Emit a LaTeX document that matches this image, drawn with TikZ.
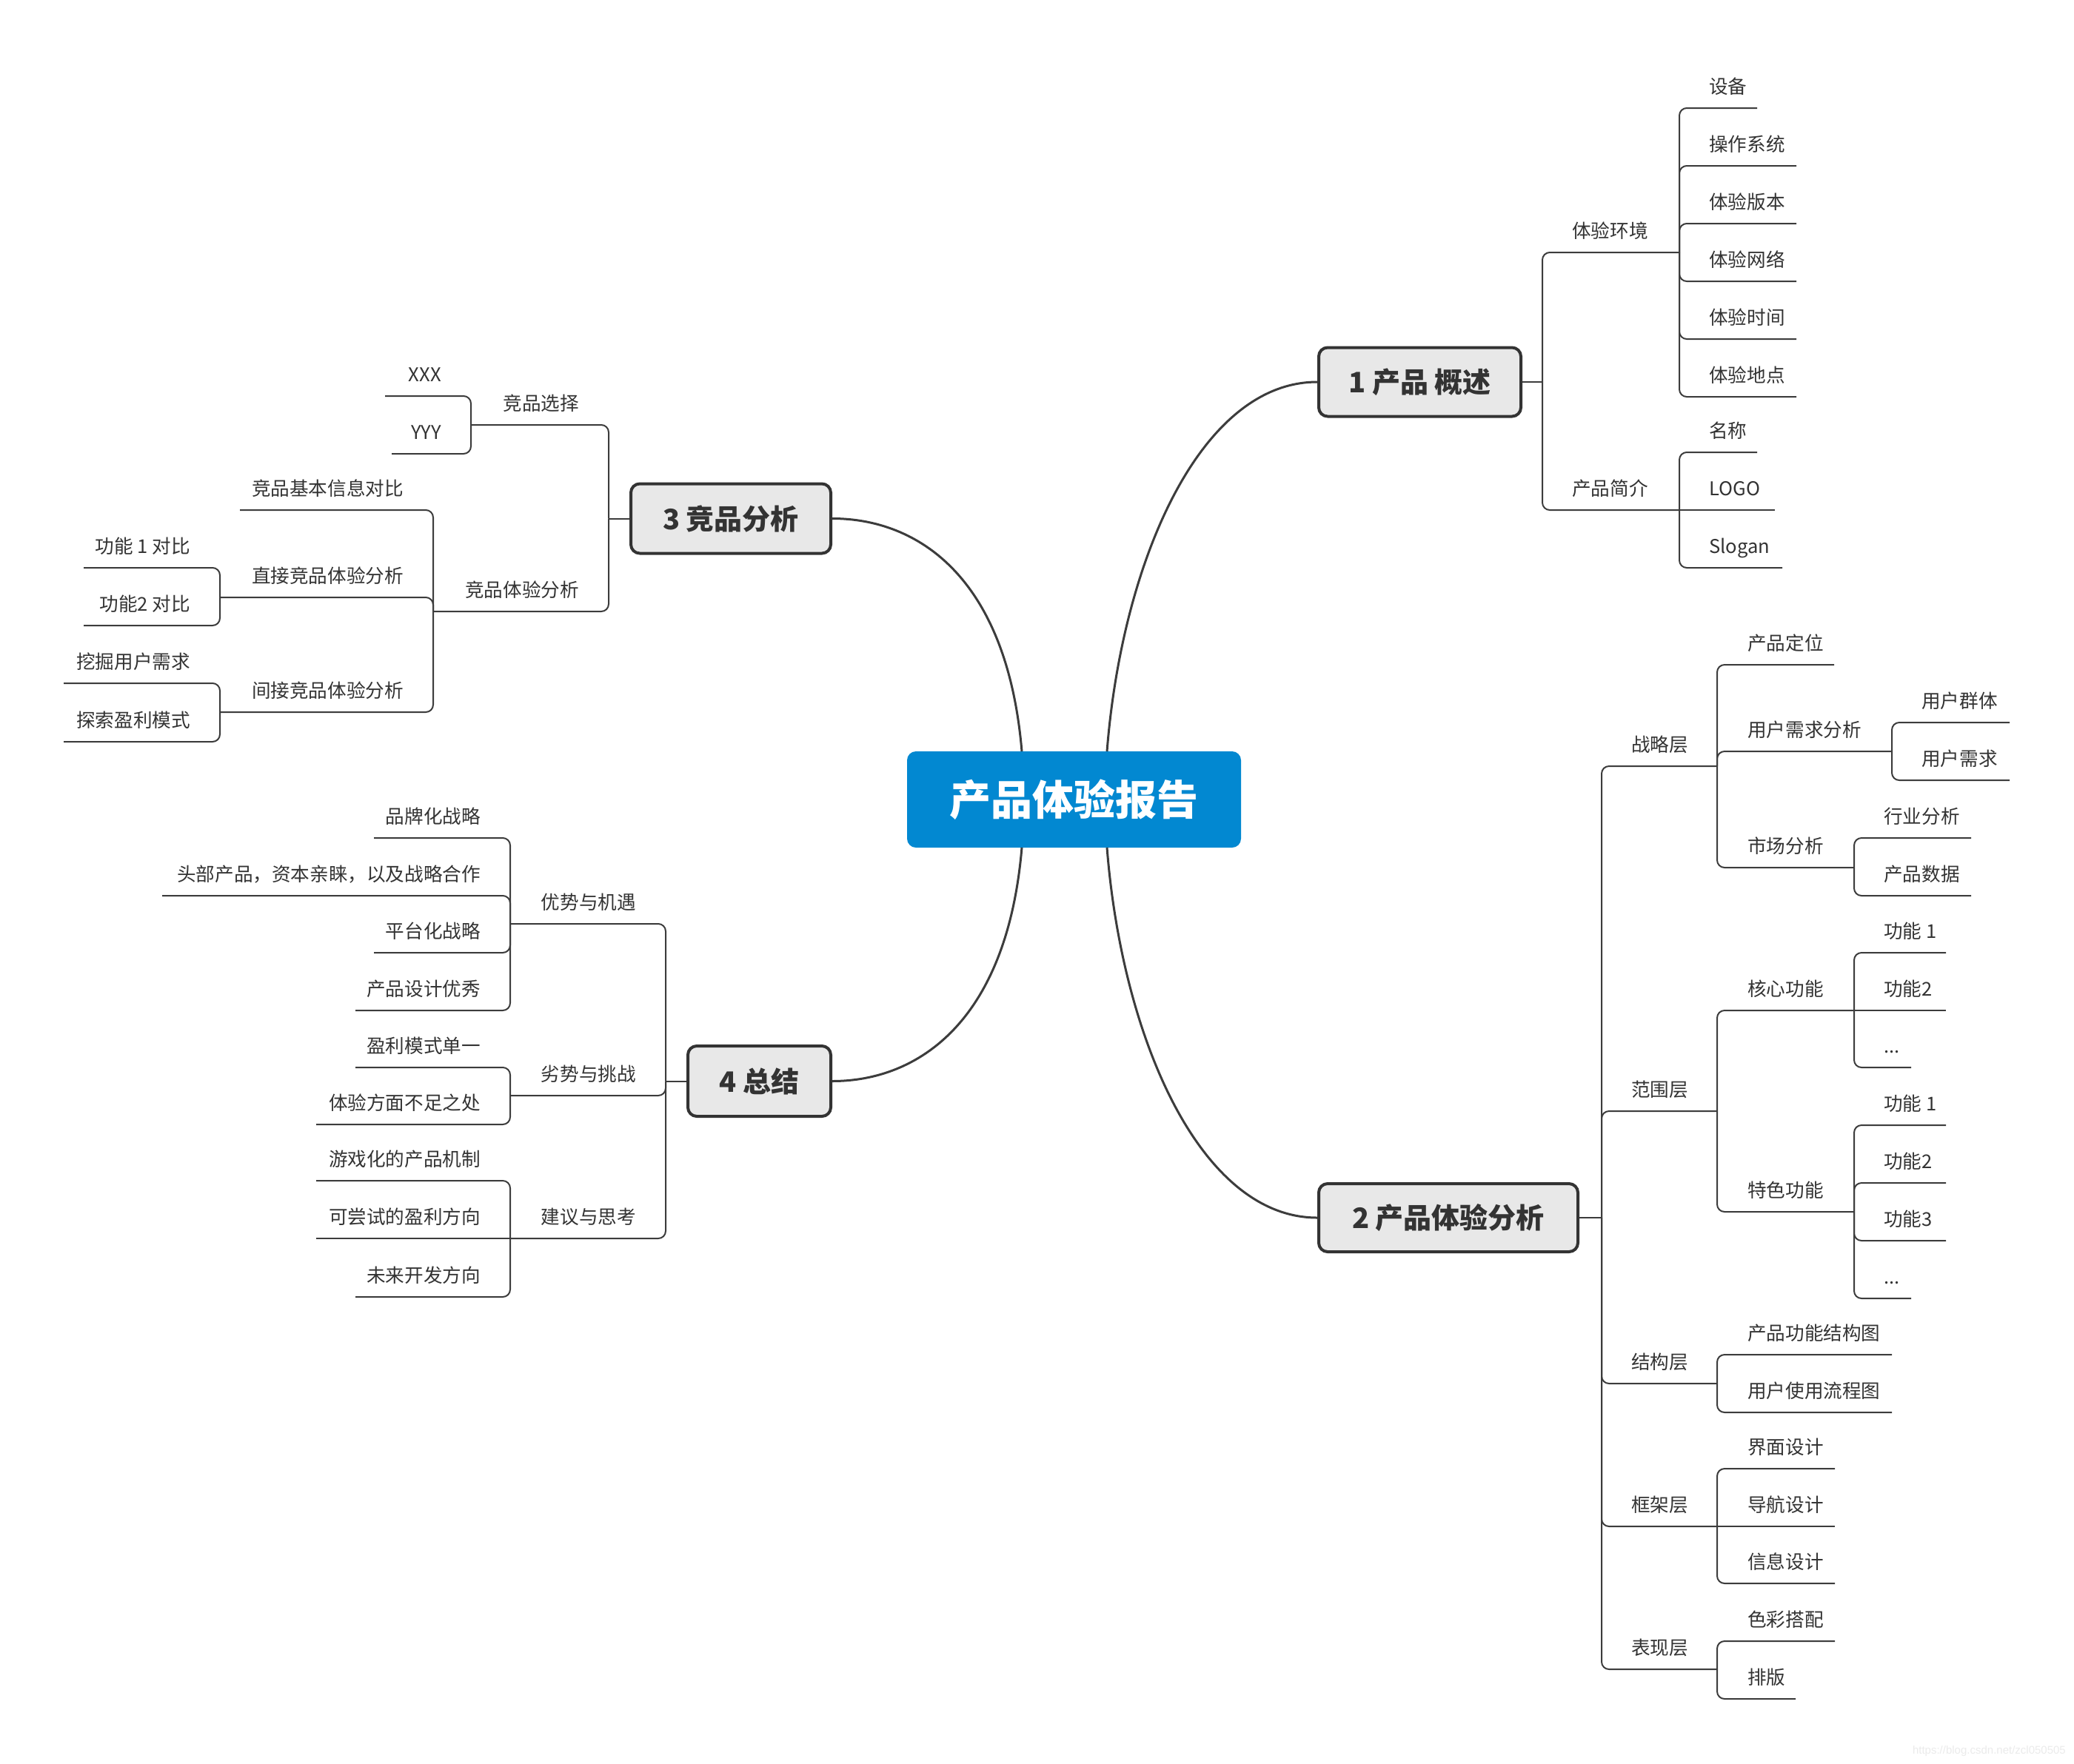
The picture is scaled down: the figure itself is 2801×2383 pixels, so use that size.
\documentclass[tikz,border=0pt]{standalone}
\usepackage{fontspec}
\setmainfont{Noto Sans CJK SC}
\newfontfamily\wmfont{Liberation Sans}
\definecolor{linec}{HTML}{3C3C3C}
\definecolor{txtc}{HTML}{333333}
\definecolor{rootc}{HTML}{0288D1}
\definecolor{boxfill}{HTML}{E8E8E8}
\definecolor{boxline}{HTML}{333333}
\definecolor{wmc}{HTML}{EBEBEB}
\newcommand\lblfont{\fontsize{25.6pt}{30pt}\selectfont}
\newcommand\topicfont{\fontsize{38pt}{44pt}\selectfont\bfseries}
\newcommand\rootfont{\fontsize{56pt}{64pt}\selectfont\bfseries}
\begin{document}
\begin{tikzpicture}[x=1pt,y=-1pt,
  lr/.style={font=\lblfont, text=txtc, inner sep=0pt, anchor=base west},
  ll/.style={font=\lblfont, text=txtc, inner sep=0pt, anchor=base east},
  br/.style={draw=linec, line width=2pt, rounded corners=10pt},
  topic/.style={draw=boxline, line width=4pt, fill=boxfill, rounded corners=12pt, font=\topicfont, text=txtc, inner sep=0pt},
  rootbox/.style={fill=rootc, rounded corners=12pt, font=\rootfont, text=white, inner sep=0pt, minimum width=451pt, minimum height=130pt},
  curve/.style={draw=linec, line width=3pt}]
\fill[white] (0,0) rectangle (2801,2383);
\useasboundingbox (0,0) rectangle (2801,2383);

% ---------- root and main topics ----------
\node[rootbox] (root) at (1450.5,1080) {产品体验报告};
\node[topic, minimum width=273pt, minimum height=93pt] (t1) at (1917.5,516) {1 产品 概述};
\node[topic, minimum width=350pt, minimum height=92pt] (t2) at (1956,1645) {2 产品体验分析};
\node[topic, minimum width=270pt, minimum height=94pt] (t3) at (987,700.5) {3 竞品分析};
\node[topic, minimum width=193pt, minimum height=95pt] (t4) at (1025.5,1460.5) {4 总结};

\coordinate (rTL) at (1380,1015);
\coordinate (rTR) at (1495,1015);
\coordinate (rBL) at (1380,1145);
\coordinate (rBR) at (1495,1145);
\draw[curve] (rTL) .. controls (1360,780) and (1240,700.5) .. (t3.east);
\draw[curve] (rBL) .. controls (1360,1380) and (1240,1460.5) .. (t4.east);
\draw[curve] (rTR) .. controls (1515,760) and (1620,516) .. (t1.west);
\draw[curve] (rBR) .. controls (1515,1400) and (1620,1645) .. (t2.west);

% ---------- 1 产品 概述 ----------
\coordinate (t1j) at (2083,516);
\draw[br] (t1.east) -- (t1j);
\coordinate (env) at (2268,341);
\coordinate (intro) at (2268,689);
\draw[br] (t1j) |- (env);
\draw[br] (t1j) |- (intro);
\node[lr] (l-env) at (2123,321) {体验环境};
\node[lr] (l-intro) at (2123,669) {产品简介};

\coordinate (e1) at (2373,146);
\coordinate (e2) at (2426,224);
\coordinate (e3) at (2426,302);
\coordinate (e4) at (2426,380);
\coordinate (e5) at (2426,458);
\coordinate (e6) at (2426,536);
\foreach \c in {e1,e2,e3,e4,e5,e6} \draw[br] (env) |- (\c);
\node[lr] (l-e1) at (2308,126) {设备};
\node[lr] (l-e2) at (2308,204) {操作系统};
\node[lr] (l-e3) at (2308,282) {体验版本};
\node[lr] (l-e4) at (2308,360) {体验网络};
\node[lr] (l-e5) at (2308,438) {体验时间};
\node[lr] (l-e6) at (2308,516) {体验地点};

\coordinate (i1) at (2373,611);
\coordinate (i2) at (2397,689);
\coordinate (i3) at (2407,767);
\draw[br] (intro) |- (i1);
\draw[br] (intro) -- (i2);
\draw[br] (intro) |- (i3);
\node[lr] (l-i1) at (2308,591) {名称};
\node[lr] (l-i2) at (2308,669) {LOGO};
\node[lr] (l-i3) at (2308,747) {Slogan};

% ---------- 2 产品体验分析 ----------
\coordinate (t2j) at (2163,1645);
\draw[br] (t2.east) -- (t2j);
\coordinate (s1) at (2319,1035);
\coordinate (s2) at (2319,1501);
\coordinate (s3) at (2319,1869);
\coordinate (s4) at (2319,2062);
\coordinate (s5) at (2319,2255);
\foreach \c in {s1,s2,s3,s4,s5} \draw[br] (t2j) |- (\c);
\node[lr] (l-s1) at (2203,1015) {战略层};
\node[lr] (l-s2) at (2203,1481) {范围层};
\node[lr] (l-s3) at (2203,1849) {结构层};
\node[lr] (l-s4) at (2203,2042) {框架层};
\node[lr] (l-s5) at (2203,2235) {表现层};

\coordinate (s1a) at (2477,898);
\coordinate (s1b) at (2555,1015);
\coordinate (s1c) at (2504,1172);
\foreach \c in {s1a,s1b,s1c} \draw[br] (s1) |- (\c);
\node[lr] (l-s1a) at (2360,878) {产品定位};
\node[lr] (l-s1b) at (2360,995) {用户需求分析};
\node[lr] (l-s1c) at (2360,1152) {市场分析};

\coordinate (s1b1) at (2714,976);
\coordinate (s1b2) at (2714,1054);
\draw[br] (s1b) |- (s1b1);
\draw[br] (s1b) |- (s1b2);
\node[lr] (l-s1b1) at (2595,956) {用户群体};
\node[lr] (l-s1b2) at (2595,1034) {用户需求};

\coordinate (s1c1) at (2662,1132);
\coordinate (s1c2) at (2662,1210);
\draw[br] (s1c) |- (s1c1);
\draw[br] (s1c) |- (s1c2);
\node[lr] (l-s1c1) at (2544,1112) {行业分析};
\node[lr] (l-s1c2) at (2544,1190) {产品数据};

\coordinate (s2a) at (2504,1365);
\coordinate (s2b) at (2504,1637);
\draw[br] (s2) |- (s2a);
\draw[br] (s2) |- (s2b);
\node[lr] (l-s2a) at (2360,1345) {核心功能};
\node[lr] (l-s2b) at (2360,1617) {特色功能};

\coordinate (s2a1) at (2628,1287);
\coordinate (s2a2) at (2628,1365);
\coordinate (s2a3) at (2581,1442);
\draw[br] (s2a) |- (s2a1);
\draw[br] (s2a) -- (s2a2);
\draw[br] (s2a) |- (s2a3);
\node[lr] (l-s2a1) at (2544,1267) {功能 1};
\node[lr] (l-s2a2) at (2544,1345) {功能2};
\node[lr] (l-s2a3) at (2544,1422) {...};

\coordinate (s2b1) at (2628,1520);
\coordinate (s2b2) at (2628,1598);
\coordinate (s2b3) at (2628,1676);
\coordinate (s2b4) at (2581,1754);
\foreach \c in {s2b1,s2b2,s2b3,s2b4} \draw[br] (s2b) |- (\c);
\node[lr] (l-s2b1) at (2544,1500) {功能 1};
\node[lr] (l-s2b2) at (2544,1578) {功能2};
\node[lr] (l-s2b3) at (2544,1656) {功能3};
\node[lr] (l-s2b4) at (2544,1734) {...};

\coordinate (s3a) at (2555,1830);
\coordinate (s3b) at (2555,1908);
\draw[br] (s3) |- (s3a);
\draw[br] (s3) |- (s3b);
\node[lr] (l-s3a) at (2360,1810) {产品功能结构图};
\node[lr] (l-s3b) at (2360,1888) {用户使用流程图};

\coordinate (s4a) at (2478,1984);
\coordinate (s4b) at (2478,2062);
\coordinate (s4c) at (2478,2139);
\draw[br] (s4) |- (s4a);
\draw[br] (s4) -- (s4b);
\draw[br] (s4) |- (s4c);
\node[lr] (l-s4a) at (2360,1964) {界面设计};
\node[lr] (l-s4b) at (2360,2042) {导航设计};
\node[lr] (l-s4c) at (2360,2119) {信息设计};

\coordinate (s5a) at (2478,2217);
\coordinate (s5b) at (2425,2295);
\draw[br] (s5) |- (s5a);
\draw[br] (s5) |- (s5b);
\node[lr] (l-s5a) at (2360,2197) {色彩搭配};
\node[lr] (l-s5b) at (2360,2275) {排版};

% ---------- 3 竞品分析 ----------
\coordinate (t3j) at (822,700.5);
\draw[br] (t3.west) -- (t3j);
\coordinate (c1) at (636,574);
\coordinate (c2) at (585,826);
\draw[br] (t3j) |- (c1);
\draw[br] (t3j) |- (c2);
\node[ll] (l-c1) at (782,554) {竞品选择};
\node[ll] (l-c2) at (782,806) {竞品体验分析};

\coordinate (c1a) at (520,535);
\coordinate (c1b) at (529,613);
\draw[br] (c1) |- (c1a);
\draw[br] (c1) |- (c1b);
\node[ll] (l-c1a) at (596,515) {XXX};
\node[ll] (l-c1b) at (596,593) {YYY};

\coordinate (c2a) at (324,689);
\coordinate (c2b) at (297,807);
\coordinate (c2c) at (297,962);
\foreach \c in {c2a,c2b,c2c} \draw[br] (c2) |- (\c);
\node[ll] (l-c2a) at (545,669) {竞品基本信息对比};
\node[ll] (l-c2b) at (545,787) {直接竞品体验分析};
\node[ll] (l-c2c) at (545,942) {间接竞品体验分析};

\coordinate (c2b1) at (113,767);
\coordinate (c2b2) at (113,845);
\draw[br] (c2b) |- (c2b1);
\draw[br] (c2b) |- (c2b2);
\node[ll] (l-c2b1) at (257,747) {功能 1 对比};
\node[ll] (l-c2b2) at (257,825) {功能2 对比};

\coordinate (c2c1) at (86,923);
\coordinate (c2c2) at (86,1002);
\draw[br] (c2c) |- (c2c1);
\draw[br] (c2c) |- (c2c2);
\node[ll] (l-c2c1) at (257,903) {挖掘用户需求};
\node[ll] (l-c2c2) at (257,982) {探索盈利模式};

% ---------- 4 总结 ----------
\coordinate (t4j) at (899,1460.5);
\draw[br] (t4.west) -- (t4j);
\coordinate (d1) at (689,1248);
\coordinate (d2) at (689,1480);
\coordinate (d3) at (689,1673);
\foreach \c in {d1,d2,d3} \draw[br] (t4j) |- (\c);
\node[ll] (l-d1) at (859,1228) {优势与机遇};
\node[ll] (l-d2) at (859,1460) {劣势与挑战};
\node[ll] (l-d3) at (859,1653) {建议与思考};

\coordinate (d1a) at (505,1132);
\coordinate (d1b) at (219,1210);
\coordinate (d1c) at (505,1287);
\coordinate (d1d) at (480,1365);
\foreach \c in {d1a,d1b,d1c,d1d} \draw[br] (d1) |- (\c);
\node[ll] (l-d1a) at (649,1112) {品牌化战略};
\node[ll] (l-d1b) at (649,1190) {头部产品，资本亲睐，以及战略合作};
\node[ll] (l-d1c) at (649,1267) {平台化战略};
\node[ll] (l-d1d) at (649,1345) {产品设计优秀};

\coordinate (d2a) at (480,1442);
\coordinate (d2b) at (427,1519);
\draw[br] (d2) |- (d2a);
\draw[br] (d2) |- (d2b);
\node[ll] (l-d2a) at (649,1422) {盈利模式单一};
\node[ll] (l-d2b) at (649,1499) {体验方面不足之处};

\coordinate (d3a) at (427,1595);
\coordinate (d3b) at (427,1673);
\coordinate (d3c) at (480,1752);
\draw[br] (d3) |- (d3a);
\draw[br] (d3) -- (d3b);
\draw[br] (d3) |- (d3c);
\node[ll] (l-d3a) at (649,1575) {游戏化的产品机制};
\node[ll] (l-d3b) at (649,1653) {可尝试的盈利方向};
\node[ll] (l-d3c) at (649,1732) {未来开发方向};

% ---------- watermark ----------
\node[font=\wmfont\fontsize{15pt}{18pt}\selectfont, text=wmc, anchor=base east, inner sep=0pt] (wm) at (2790,2369) {https://blog.csdn.net/zcl050505};
\end{tikzpicture}
\end{document}
